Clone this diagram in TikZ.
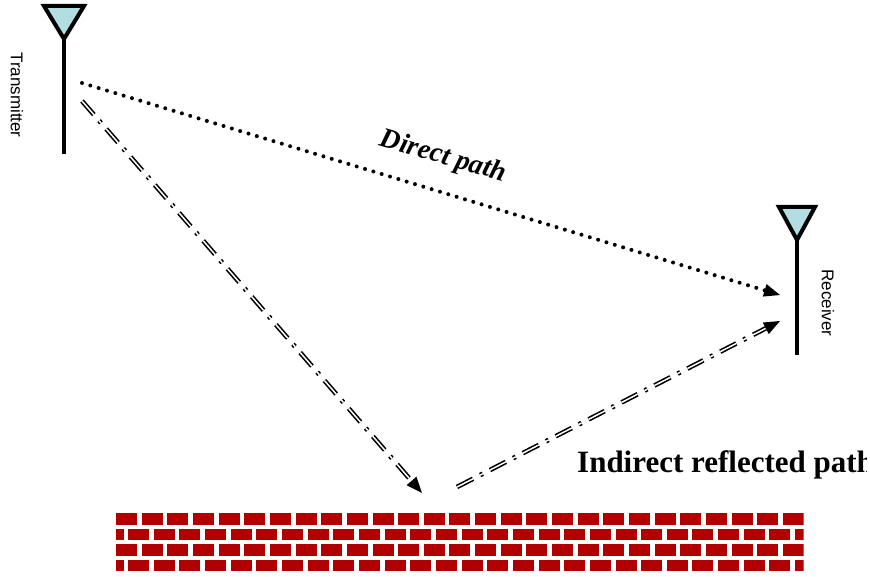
\documentclass[tikz,border=0pt]{standalone}
\usepackage{fontspec}
\setmainfont{Liberation Serif}
\newfontfamily\antsans{Liberation Sans}
\usetikzlibrary{arrows.meta}
\definecolor{brickred}{RGB}{176,0,0}
\definecolor{antcyan}{RGB}{178,222,226}
\begin{document}
\begin{tikzpicture}[x=1pt,y=-1pt,
  mast/.style={line width=4pt},
  dish/.style={line width=4pt, fill=antcyan, line join=miter},
  anttext/.style={rotate=-90, inner sep=0pt, font=\antsans\fontsize{17}{20}\selectfont},
  tip/.style={-{Triangle[length=16pt,width=13pt,line width=0pt]}},
  directray/.style={tip, line width=4pt, line cap=round, dash pattern=on 0pt off 8.7pt},
  bounceray/.style={tip, line width=1.6pt, double, double distance=1.5pt, dash pattern=on 18pt off 8pt on 3pt off 8pt}
]
\useasboundingbox (0,0) rectangle (870,577);

% transmitter antenna
\coordinate (txapex) at (64,39);
\coordinate (txfoot) at (64,154);
\draw[mast] (txapex) -- (txfoot);
\draw[dish] (44,6) -- (84,6) -- (txapex) -- cycle;
\node[anttext] (txlabel) at (17,95) {Transmitter};

% receiver antenna
\coordinate (rxapex) at (797,240);
\coordinate (rxfoot) at (797,355);
\draw[mast] (rxapex) -- (rxfoot);
\draw[dish] (779,207) -- (815,207) -- (rxapex) -- cycle;
\node[anttext] (rxlabel) at (828,303) {Receiver};

% ray end points
\coordinate (txdirect) at (82,83);
\coordinate (rxdirect) at (780,295);
\coordinate (txbounce) at (82,101);
\coordinate (wallin) at (422,493);
\coordinate (wallout) at (457,487);
\coordinate (rxbounce) at (780,321);

% rays
\draw[directray] (txdirect) -- (rxdirect);
\draw[bounceray] (txbounce) -- (wallin);
\draw[bounceray] (wallout) -- (rxbounce);

% labels
\node[rotate=-16, inner sep=0pt, font=\bfseries\itshape\fontsize{28}{30}\selectfont] (directlabel) at (443,157) {Direct path};
\begin{scope}
\clip (0,0) rectangle (866,577);
\node[anchor=base west, inner sep=0pt, font=\bfseries\fontsize{31}{32}\selectfont] (bouncelabel) at (577,472) {Indirect reflected path};
\end{scope}

% brick wall
\begin{scope}
\clip (116,512) rectangle (803.5,573);
\foreach \r in {0,1,2,3} {
  \pgfmathsetmacro{\ytop}{513+15.6*\r}
  \pgfmathsetmacro{\shift}{mod(\r,2)==0 ? 116 : 102.5}
  \foreach \k in {0,...,27} {
    \pgfmathsetmacro{\xl}{\shift+25.65*\k}
    \fill[brickred] (\xl,\ytop) rectangle ++(21,11.6);
  }
}
\end{scope}
\end{tikzpicture}
\end{document}
